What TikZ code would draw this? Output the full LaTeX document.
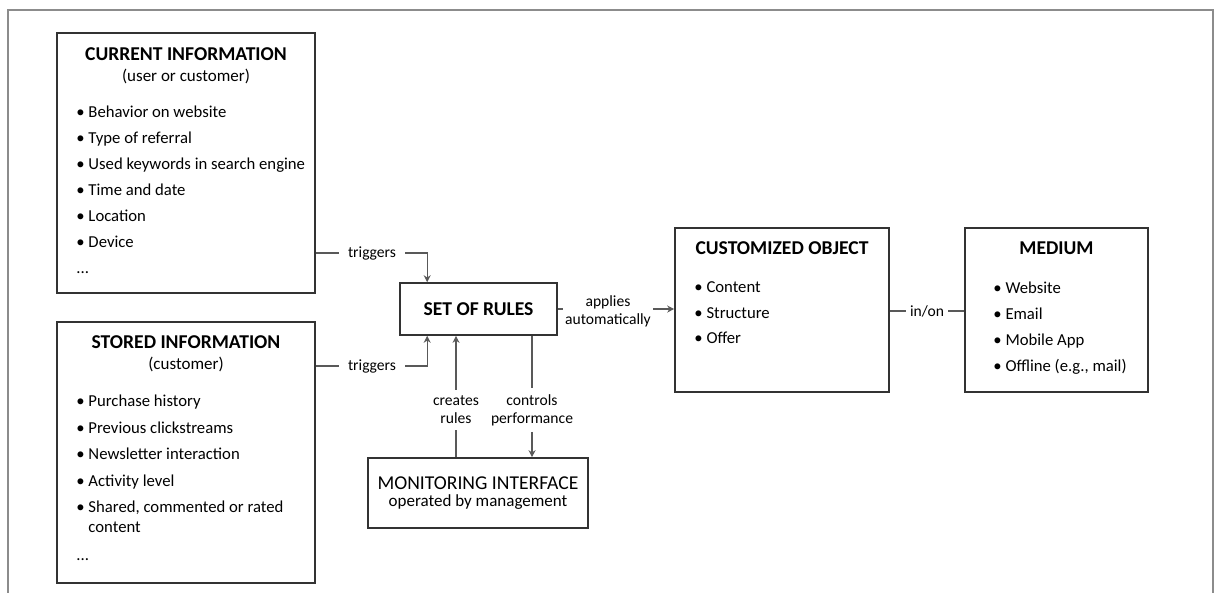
\documentclass[tikz,border=0pt]{standalone}
\usepackage{fontspec}
\setmainfont{Carlito}
\usetikzlibrary{positioning, arrows.meta, calc}

\begin{document}
\begin{tikzpicture}[
        x=1pt, y=-1pt,
        box/.style={
            draw=black!80,
            line width=1.6pt,
            rectangle,
            inner sep=0pt
        },
        title/.style={font=\fontsize{19.6}{22}\selectfont\bfseries, inner sep=0pt},
        sub/.style={font=\fontsize{17}{19}\selectfont, inner sep=0pt},
        items/.style={font=\fontsize{16.7}{20}\selectfont, align=left, inner sep=0pt},
        lbl/.style={font=\fontsize{15.6}{18}\selectfont, align=center, inner xsep=9pt, inner ysep=6pt},
        link/.style={draw=black!65, line width=1.1pt},
        arrow/.style={link, ->, >={Stealth[length=7pt, width=7pt]}},
        frame/.style={draw=black!45, line width=2pt}
    ]

        \useasboundingbox (0,0) rectangle (1217,592);
        \draw[frame] (8,600) |- (1213,10) -- (1213,600);

        \node[box, minimum width=258pt, minimum height=260pt] (cur) at (186,163) {};
        \node[title, below=15.5pt of cur.north] (curtitle) {CURRENT INFORMATION};
        \node[sub, below=8pt of curtitle] (cursub) {(user or customer)};
        \node[items, below right=73pt and 20pt of cur.north west] (curitems) {\textbullet\ Behavior on website\\[6pt]
        \textbullet\ Type of referral\\[6pt]
        \textbullet\ Used keywords in search engine\\[6pt]
        \textbullet\ Time and date\\[6pt]
        \textbullet\ Location\\[6pt]
        \textbullet\ Device\\[6pt]
        ...};

        \node[box, minimum width=258pt, minimum height=261pt] (sto) at (186,452.5) {};
        \node[title, below=14.5pt of sto.north] (stotitle) {STORED INFORMATION};
        \node[sub, below=8pt of stotitle] (stosub) {(customer)};
        \node[items, below right=73.5pt and 20pt of sto.north west] (stoitems) {\textbullet\ Purchase history\\[6.5pt]
        \textbullet\ Previous clickstreams\\[6.5pt]
        \textbullet\ Newsletter interaction\\[6.5pt]
        \textbullet\ Activity level\\[6.5pt]
        \textbullet\ Shared, commented or rated\\
        \phantom{\textbullet\ }content\\[8pt]
        ...};

        \node[box, minimum width=157pt, minimum height=52pt,
            font=\fontsize{19.6}{22}\selectfont\bfseries] (rules) at (478.5,309) {SET OF RULES};

        \node[box, minimum width=220pt, minimum height=70pt, align=center] (mon) at (478,493)
        {{\fontsize{19.6}{22}\selectfont MONITORING INTERFACE}\\[5pt]
        {\fontsize{17}{18}\selectfont operated by management}};

        \node[box, minimum width=214pt, minimum height=164pt] (obj) at (782,310) {};
        \node[title, below=14.5pt of obj.north] (objtitle) {CUSTOMIZED OBJECT};
        \node[items, below right=54.5pt and 20pt of obj.north west] (objitems) {\textbullet\ Content\\[5.5pt]
        \textbullet\ Structure\\[5.5pt]
        \textbullet\ Offer};

        \node[box, minimum width=183pt, minimum height=164pt] (med) at (1056.5,310) {};
        \node[title, below=14.5pt of med.north] (medtitle) {MEDIUM};
        \node[items, below right=54.5pt and 29pt of med.north west] (meditems) {\textbullet\ Website\\[6pt]
        \textbullet\ Email\\[6pt]
        \textbullet\ Mobile App\\[6pt]
        \textbullet\ Offline (e.g., mail)};

        \node[lbl] (trig1) at (372,253) {triggers};
        \node[lbl] (trig2) at (372,366) {triggers};
        \node[lbl, inner xsep=2pt] (apply) at (608,311) {applies\\automatically};
        \node[lbl] (create) at (456,410) {creates\\rules};
        \node[lbl] (control) at (532,410) {controls\\performance};
        \node[lbl, inner xsep=4pt] (inon) at (927,311) {in/on};

        \draw[link] (cur.east |- trig1) -- (trig1);
        \draw[arrow] (trig1) -| ([xshift=28pt]rules.north west);
        \draw[link] (sto.east |- trig2) -- (trig2);
        \draw[arrow] (trig2) -| ([xshift=28pt]rules.south west);
        \draw[arrow] (create) -- (create |- rules.south);
        \draw[link] (mon.north -| create) -- (create);
        \draw[link] (rules.south -| control) -- (control);
        \draw[arrow] (control) -- (control |- mon.north);
        \draw[link] (rules.east) -- (rules.east -| apply.west);
        \draw[arrow] (apply.east |- rules.east) -- (obj.west |- rules.east);
        \draw[link] (obj.east |- inon) -- (inon);
        \draw[link] (inon) -- (med.west |- inon);

    \end{tikzpicture}
\end{document}
